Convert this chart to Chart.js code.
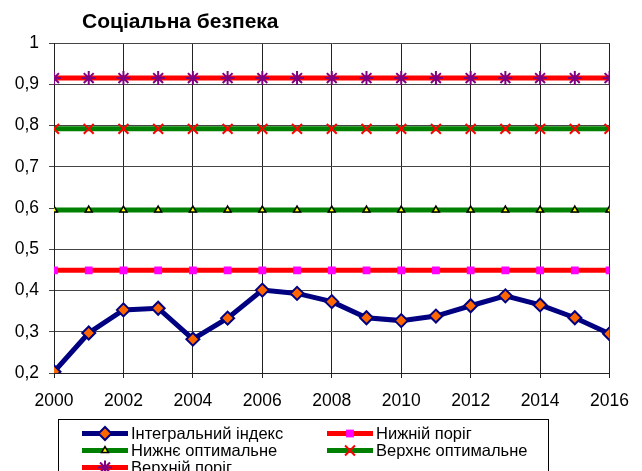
<!DOCTYPE html>
<html>
<head>
<meta charset="utf-8">
<script src="https://cdn.jsdelivr.net/npm/chart.js@4/dist/chart.umd.min.js"></script>
<style>
  html, body { margin: 0; padding: 0; background: #fff; }
  #wrap { position: relative; width: 642px; height: 471px; overflow: hidden; font-family: "Liberation Sans", Arial, sans-serif; }
  #titulo { position: absolute; left: 82px; top: 8px; font-size: 21px; line-height: 26px; font-weight: bold; color: #000; }
  #legenda { position: absolute; left: 58px; top: 419px; width: 491px; height: 70px; border: 1px solid #000; box-sizing: border-box; }
  .item { position: absolute; font-size: 16.5px; line-height: 17px; color: #000; white-space: nowrap; }
  .item canvas { position: absolute; left: 0; top: -1px; }
  .item span { position: absolute; left: 49px; top: 0; }
</style>
</head>
<body>
<div id="wrap">
  <canvas id="graficoSeguranca" width="642" height="471"></canvas>
  <div id="titulo">Соціальна безпека</div>
  <div id="legenda"></div>
</div>
<script>
var anos = [2000, 2001, 2002, 2003, 2004, 2005, 2006, 2007, 2008, 2009, 2010, 2011, 2012, 2013, 2014, 2015, 2016];
var indiceIntegral = [0.203, 0.297, 0.353, 0.357, 0.282, 0.333, 0.401, 0.393, 0.373, 0.334, 0.327, 0.338, 0.363, 0.387, 0.365, 0.334, 0.295];
var limiteInferior = 0.449;
var otimoInferior = 0.595;
var otimoSuperior = 0.792;
var limiteSuperior = 0.915;
var nomesSeries = ['Інтегральний індекс', 'Нижній поріг', 'Нижнє оптимальне', 'Верхнє оптимальне', 'Верхній поріг'];
var ticksY = [0.2, 0.3, 0.4, 0.5, 0.6, 0.7, 0.8, 0.9, 1];

function pontos(valores) {
    return anos.map(function (ano, i) {
        return { x: ano, y: Array.isArray(valores) ? valores[i] : valores };
    });
}

var estilos = [
    { linha: '#000080', ponto: 'rectRot', fundo: '#FF6600', borda: '#000080', raio: 6.5, bordaLargura: 2 },
    { linha: '#FF0000', ponto: 'rect', fundo: '#FF00FF', borda: '#FF00FF', raio: 5.5, bordaLargura: 0 },
    { linha: '#008000', ponto: 'triangle', fundo: '#FFFF00', borda: '#000000', raio: 4, bordaLargura: 1.5 },
    { linha: '#008000', ponto: 'crossRot', fundo: '#FF0000', borda: '#FF0000', raio: 7, bordaLargura: 2 },
    { linha: '#FF0000', ponto: 'star', fundo: '#800080', borda: '#800080', raio: 7, bordaLargura: 2 }
];
var valoresSeries = [indiceIntegral, limiteInferior, otimoInferior, otimoSuperior, limiteSuperior];

var datasets = valoresSeries.map(function (v, i) {
    var e = estilos[i];
    return {
        label: nomesSeries[i],
        data: pontos(v),
        borderColor: e.linha,
        borderWidth: 5,
        pointStyle: e.ponto,
        pointRadius: e.raio,
        pointBackgroundColor: e.fundo,
        pointBorderColor: e.borda,
        pointBorderWidth: e.bordaLargura,
        tension: 0,
        order: i === 0 ? 0 : 1
    };
});

var ctx = document.getElementById('graficoSeguranca');
var grafico = new Chart(ctx, {
    type: 'line',
    data: { datasets: datasets },
    options: {
        responsive: false,
        animation: false,
        layout: { padding: { left: 0, right: 32, top: 43, bottom: 56 } },
        plugins: { legend: { display: false }, title: { display: false }, tooltip: { enabled: false } },
        scales: {
            x: {
                type: 'linear',
                min: 2000,
                max: 2016,
                ticks: { stepSize: 2, color: '#000', font: { family: 'Liberation Sans', size: 17.5 }, padding: 13,
                         callback: function (v) { return String(v); } },
                grid: { color: '#222', tickLength: 5 },
                border: { color: '#222' },
                afterFit: function (s) { s.height = 42; }
            },
            y: {
                min: 0.2,
                max: 1,
                afterBuildTicks: function (s) { s.ticks = ticksY.map(function (t) { return { value: t }; }); },
                ticks: { color: '#000', font: { family: 'Liberation Sans', size: 17.5 }, padding: 10,
                         callback: function (v) { return v === 1 ? '1' : v.toFixed(1).replace('.', ','); } },
                grid: { color: '#444', tickLength: 5 },
                border: { color: '#222' },
                afterFit: function (s) { s.width = 54; }
            }
        }
    }
});

// legenda em HTML, duas colunas como no original
var legenda = document.getElementById('legenda');
var posicoes = [[23, 5], [268, 5], [23, 22], [268, 22], [23, 39]];
nomesSeries.forEach(function (nome, i) {
    var e = estilos[i];
    var item = document.createElement('div');
    item.className = 'item';
    item.style.left = posicoes[i][0] + 'px';
    item.style.top = posicoes[i][1] + 'px';
    var c = document.createElement('canvas');
    c.width = 46; c.height = 19;
    var g = c.getContext('2d');
    g.strokeStyle = e.linha;
    g.lineWidth = 5;
    g.beginPath(); g.moveTo(0, 9.5); g.lineTo(46, 9.5); g.stroke();
    g.fillStyle = e.fundo;
    g.strokeStyle = e.borda;
    g.lineWidth = e.bordaLargura;
    if (Chart.helpers && Chart.helpers.drawPoint) {
        Chart.helpers.drawPoint(g, { pointStyle: e.ponto, radius: e.raio, borderWidth: e.bordaLargura, rotation: 0 }, 23, 9.5);
    }
    item.appendChild(c);
    var s = document.createElement('span');
    s.textContent = nome;
    item.appendChild(s);
    legenda.appendChild(item);
});
</script>
</body>
</html>
